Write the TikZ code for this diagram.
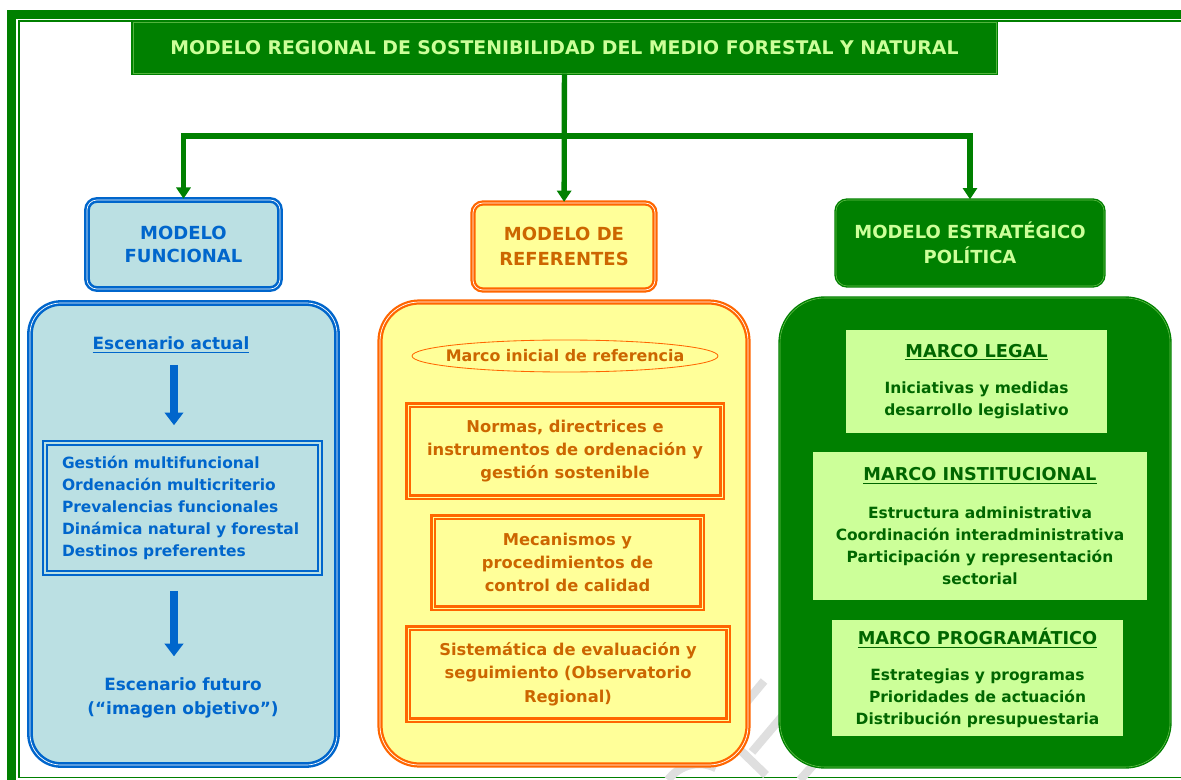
\documentclass[tikz,border=0pt]{standalone}
\usepackage{fontspec}
\setmainfont{DejaVu Sans}
\usetikzlibrary{arrows.meta,shapes.geometric}
\definecolor{fgreen}{HTML}{008000}
\definecolor{lgreen}{HTML}{CCFF99}
\definecolor{dgreen}{HTML}{006600}
\definecolor{fblue}{HTML}{0066CC}
\definecolor{lblue}{HTML}{BBE0E3}
\definecolor{forange}{HTML}{FF6600}
\definecolor{torange}{HTML}{CC6600}
\definecolor{lyellow}{HTML}{FFFF99}
\newcommand{\pxu}{0.025cm}
\tikzset{
  headfont/.style={font=\bfseries\fontsize{12.8}{16.5}\selectfont},
  bodyfont/.style={font=\bfseries\fontsize{11}{15.6}\selectfont},
  conn/.style={draw=fgreen,line width=3.8pt,-{Triangle[width=10pt,length=8pt]}},
  barrow/.style={draw=fblue,line width=5pt,-{Triangle[width=13pt,length=9pt]}},
  bluebox/.style={draw=fblue,fill=lblue,line width=1.8pt,double=white,double distance=0.5pt,text=fblue,align=center},
  orangebox/.style={draw=forange,fill=lyellow,line width=1.6pt,double=white,double distance=0.5pt,text=torange,align=center},
  greenbox/.style={draw=fgreen,fill=fgreen,line width=1pt,double=lgreen!50!fgreen,double distance=0.4pt,text=lgreen,align=center},
  marcobox/.style={fill=lgreen,text=dgreen,align=center,bodyfont},
  refbox/.style={draw=forange,line width=1.5pt,double=lyellow,double distance=0.6pt,text=torange,align=center,
    font=\bfseries\fontsize{11.6}{16.6}\selectfont},
}
\begin{document}
\begin{tikzpicture}[x=0.025cm,y=-0.025cm]
\useasboundingbox (0,0) rectangle (1181,780);

% frame
\fill[fgreen] (7,10) rectangle (1181,19);
\fill[fgreen] (7,10) rectangle (15.5,780);
\draw[fgreen,line width=1.4pt] (1181,21) -| (19,777.5) -- (1181,777.5);

% watermark
\begin{scope}[gray!25,line width=6pt]
\draw (764,681) -- (730,722);
\draw (785,713) -- (752,752);
\draw (735,745) -- (766,775);
\draw (822,755) -- (800,780);
\draw (668,780) .. controls (680,764) and (700,760) .. (716,768);
\end{scope}

% title
\node[greenbox,font=\bfseries\fontsize{13.4}{16}\selectfont,minimum width=863*\pxu,minimum height=51*\pxu,double=lgreen!40!fgreen] (title) at (564.5,47.5) {MODELO REGIONAL DE SOSTENIBILIDAD DEL MEDIO FORESTAL Y NATURAL};

% the three headers
\node[bluebox,headfont,rounded corners=7pt,minimum width=193*\pxu,minimum height=89*\pxu] (funcHead) at (183.5,244.5) {MODELO\\FUNCIONAL};
\node[orangebox,font=\bfseries\fontsize{12.8}{17.7}\selectfont,rounded corners=7pt,minimum width=182*\pxu,minimum height=87*\pxu] (refHead) at (564,246.5) {MODELO DE\\REFERENTES};
\node[greenbox,font=\bfseries\fontsize{12.8}{17.7}\selectfont,rounded corners=8pt,minimum width=268*\pxu,minimum height=86*\pxu] (estHead) at (970,243) {MODELO ESTRATÉGICO\\POLÍTICA};

\coordinate (split) at (564.5,136);
\draw[conn] (title) -- (refHead);
\draw[conn] (split) -| (funcHead);
\draw[conn] (split) -| (estHead);

% modelo funcional
\node[bluebox,rounded corners=22pt,minimum width=307*\pxu,minimum height=462*\pxu] (funcBody) at (183.5,534) {};
\node[text=fblue,font=\bfseries\fontsize{12}{16.5}\selectfont] (actual) at (171,345) {\underline{Escenario actual}};
\node[bluebox,double=lblue,line width=1.3pt,double distance=1pt,bodyfont,align=left,text width=241*\pxu,inner xsep=17*\pxu,minimum height=130*\pxu] (lista) at (182.5,508)
  {Gestión multifuncional\\Ordenación multicriterio\\Prevalencias funcionales\\Dinámica natural y forestal\\Destinos preferentes};
\node[text=fblue,font=\bfseries\fontsize{12}{16.5}\selectfont,align=center] (futuro) at (183,698) {Escenario futuro\\(“imagen objetivo”)};
\draw[barrow,shorten <=5pt,shorten >=12pt] (actual.south -| 174,0) -- (174,0 |- lista.north);
\draw[barrow,shorten <=12pt,shorten >=12pt] (174,0 |- lista.south) -- (174,0 |- futuro.north);

% modelo de referentes
\node[orangebox,rounded corners=28pt,minimum width=368*\pxu,minimum height=463*\pxu] (refBody) at (564,533.5) {};
\node[ellipse,draw=forange,line width=0.6pt,text=torange,font=\bfseries\fontsize{11.3}{15}\selectfont,minimum width=306*\pxu,minimum height=32*\pxu,inner sep=0pt] (marco) at (565,356) {\makebox[0pt]{Marco inicial de referencia}};
\node[refbox,minimum width=314*\pxu,minimum height=92*\pxu] (normas) at (565,451) {Normas, directrices e\\instrumentos de ordenación y\\gestión sostenible};
\node[refbox,minimum width=269*\pxu,minimum height=91*\pxu] (mecanismos) at (567.5,562.5) {Mecanismos y\\procedimientos de\\control de calidad};
\node[refbox,minimum width=320*\pxu,minimum height=92*\pxu] (sistematica) at (568,674) {Sistemática de evaluación y\\seguimiento (Observatorio\\Regional)};

% modelo estrategico
\node[greenbox,rounded corners=32pt,minimum width=390*\pxu,minimum height=469*\pxu] (estBody) at (975,532.5) {};
\node[marcobox,minimum width=261*\pxu,minimum height=103*\pxu] (legal) at (976.5,381.5)
  {{\fontsize{12.6}{15}\selectfont\underline{MARCO LEGAL}}\\[10pt]Iniciativas y medidas\\desarrollo legislativo};
\node[marcobox,minimum width=334*\pxu,minimum height=148*\pxu] (institucional) at (980,526)
  {{\fontsize{12.6}{15}\selectfont\underline{MARCO INSTITUCIONAL}}\\[11pt]Estructura administrativa\\Coordinación interadministrativa\\Participación y representación\\sectorial};
\node[marcobox,minimum width=291*\pxu,minimum height=116*\pxu] (programatico) at (977.5,678)
  {{\fontsize{12.6}{15}\selectfont\underline{MARCO PROGRAMÁTICO}}\\[10pt]Estrategias y programas\\Prioridades de actuación\\Distribución presupuestaria};

\end{tikzpicture}
\end{document}
